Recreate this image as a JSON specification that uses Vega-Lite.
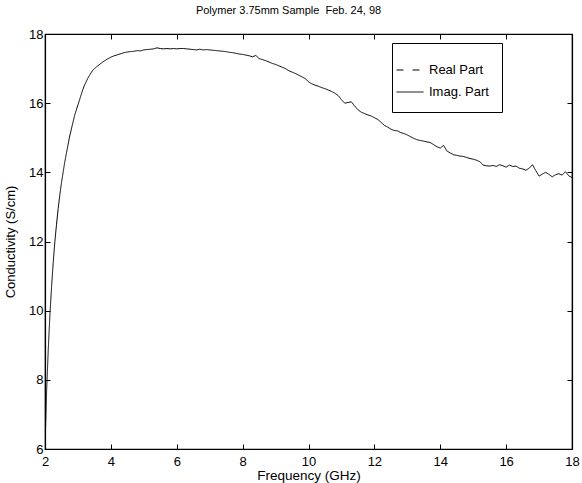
{
  "$schema": "https://vega.github.io/schema/vega-lite/v6.json",
  "width": 527,
  "height": 415,
  "autosize": "none",
  "padding": {"left": 45, "top": 34, "right": 10, "bottom": 34},
  "background": "white",
  "config": {
    "font": "Liberation Sans",
    "view": {"stroke": "black", "strokeWidth": 1.2}
  },
  "title": {
    "text": "Polymer 3.75mm Sample \u00a0Feb. 24, 98",
    "fontSize": 11,
    "fontWeight": "normal",
    "color": "black",
    "offset": 12,
    "dx": -20,
    "font": "Liberation Sans"
  },
  "data": {
    "values": [
      {"f": 2.0, "v": 6.3}, {"f": 2.02, "v": 6.7}, {"f": 2.05, "v": 7.7}, {"f": 2.1, "v": 8.9},
      {"f": 2.15, "v": 9.9}, {"f": 2.2, "v": 10.7}, {"f": 2.25, "v": 11.4}, {"f": 2.3, "v": 12.0},
      {"f": 2.35, "v": 12.5}, {"f": 2.4, "v": 12.95}, {"f": 2.45, "v": 13.35}, {"f": 2.5, "v": 13.7},
      {"f": 2.55, "v": 14.0}, {"f": 2.6, "v": 14.3}, {"f": 2.65, "v": 14.55}, {"f": 2.7, "v": 14.8},
      {"f": 2.75, "v": 15.05}, {"f": 2.8, "v": 15.25}, {"f": 2.85, "v": 15.45}, {"f": 2.9, "v": 15.65},
      {"f": 2.95, "v": 15.8}, {"f": 3.0, "v": 15.95}, {"f": 3.05, "v": 16.1}, {"f": 3.1, "v": 16.25},
      {"f": 3.15, "v": 16.4}, {"f": 3.2, "v": 16.52}, {"f": 3.25, "v": 16.62}, {"f": 3.3, "v": 16.72},
      {"f": 3.35, "v": 16.8}, {"f": 3.4, "v": 16.88}, {"f": 3.45, "v": 16.95}, {"f": 3.5, "v": 17.0},
      {"f": 3.6, "v": 17.08}, {"f": 3.7, "v": 17.15}, {"f": 3.8, "v": 17.22}, {"f": 3.9, "v": 17.28},
      {"f": 4.0, "v": 17.33}, {"f": 4.1, "v": 17.37}, {"f": 4.2, "v": 17.4}, {"f": 4.3, "v": 17.43},
      {"f": 4.4, "v": 17.46}, {"f": 4.5, "v": 17.48}, {"f": 4.6, "v": 17.49}, {"f": 4.7, "v": 17.5},
      {"f": 4.8, "v": 17.52}, {"f": 4.9, "v": 17.51}, {"f": 5.0, "v": 17.54}, {"f": 5.1, "v": 17.55},
      {"f": 5.2, "v": 17.56}, {"f": 5.3, "v": 17.57}, {"f": 5.4, "v": 17.6}, {"f": 5.5, "v": 17.58},
      {"f": 5.6, "v": 17.57}, {"f": 5.7, "v": 17.58}, {"f": 5.8, "v": 17.57}, {"f": 5.9, "v": 17.58},
      {"f": 6.0, "v": 17.57}, {"f": 6.1, "v": 17.58}, {"f": 6.2, "v": 17.58}, {"f": 6.3, "v": 17.57},
      {"f": 6.4, "v": 17.56}, {"f": 6.5, "v": 17.55}, {"f": 6.6, "v": 17.54}, {"f": 6.7, "v": 17.56},
      {"f": 6.8, "v": 17.54}, {"f": 6.9, "v": 17.55}, {"f": 7.0, "v": 17.54}, {"f": 7.1, "v": 17.53},
      {"f": 7.2, "v": 17.52}, {"f": 7.3, "v": 17.51}, {"f": 7.4, "v": 17.5}, {"f": 7.5, "v": 17.49},
      {"f": 7.6, "v": 17.47}, {"f": 7.7, "v": 17.46}, {"f": 7.8, "v": 17.44}, {"f": 7.9, "v": 17.42},
      {"f": 8.0, "v": 17.41}, {"f": 8.1, "v": 17.39}, {"f": 8.2, "v": 17.37}, {"f": 8.3, "v": 17.34},
      {"f": 8.4, "v": 17.38}, {"f": 8.5, "v": 17.29}, {"f": 8.6, "v": 17.26}, {"f": 8.7, "v": 17.23},
      {"f": 8.8, "v": 17.19}, {"f": 8.9, "v": 17.15}, {"f": 9.0, "v": 17.12}, {"f": 9.1, "v": 17.08},
      {"f": 9.2, "v": 17.04}, {"f": 9.3, "v": 17.0}, {"f": 9.4, "v": 16.94}, {"f": 9.5, "v": 16.9},
      {"f": 9.6, "v": 16.86}, {"f": 9.7, "v": 16.81}, {"f": 9.8, "v": 16.76}, {"f": 9.9, "v": 16.71},
      {"f": 10.0, "v": 16.62}, {"f": 10.1, "v": 16.56}, {"f": 10.2, "v": 16.52}, {"f": 10.3, "v": 16.49},
      {"f": 10.4, "v": 16.45}, {"f": 10.5, "v": 16.42}, {"f": 10.6, "v": 16.38}, {"f": 10.7, "v": 16.34},
      {"f": 10.8, "v": 16.29}, {"f": 10.9, "v": 16.22}, {"f": 11.0, "v": 16.1}, {"f": 11.1, "v": 16.0},
      {"f": 11.2, "v": 16.02}, {"f": 11.3, "v": 16.04}, {"f": 11.4, "v": 15.92}, {"f": 11.5, "v": 15.81},
      {"f": 11.6, "v": 15.74}, {"f": 11.7, "v": 15.7}, {"f": 11.8, "v": 15.66}, {"f": 11.9, "v": 15.63},
      {"f": 12.0, "v": 15.58}, {"f": 12.1, "v": 15.53}, {"f": 12.2, "v": 15.45}, {"f": 12.3, "v": 15.36},
      {"f": 12.4, "v": 15.31}, {"f": 12.5, "v": 15.25}, {"f": 12.6, "v": 15.21}, {"f": 12.7, "v": 15.2},
      {"f": 12.8, "v": 15.15}, {"f": 12.9, "v": 15.12}, {"f": 13.0, "v": 15.08}, {"f": 13.1, "v": 15.03},
      {"f": 13.2, "v": 14.98}, {"f": 13.3, "v": 14.94}, {"f": 13.4, "v": 14.92}, {"f": 13.5, "v": 14.9},
      {"f": 13.6, "v": 14.88}, {"f": 13.7, "v": 14.86}, {"f": 13.8, "v": 14.8}, {"f": 13.9, "v": 14.74},
      {"f": 14.0, "v": 14.7}, {"f": 14.1, "v": 14.78}, {"f": 14.2, "v": 14.62}, {"f": 14.3, "v": 14.56},
      {"f": 14.4, "v": 14.51}, {"f": 14.5, "v": 14.49}, {"f": 14.6, "v": 14.47}, {"f": 14.7, "v": 14.46},
      {"f": 14.8, "v": 14.43}, {"f": 14.9, "v": 14.4}, {"f": 15.0, "v": 14.38}, {"f": 15.1, "v": 14.35},
      {"f": 15.2, "v": 14.31}, {"f": 15.3, "v": 14.21}, {"f": 15.4, "v": 14.19}, {"f": 15.5, "v": 14.18},
      {"f": 15.6, "v": 14.2}, {"f": 15.7, "v": 14.17}, {"f": 15.8, "v": 14.22}, {"f": 15.9, "v": 14.19},
      {"f": 16.0, "v": 14.15}, {"f": 16.1, "v": 14.21}, {"f": 16.2, "v": 14.17}, {"f": 16.3, "v": 14.18},
      {"f": 16.4, "v": 14.12}, {"f": 16.5, "v": 14.1}, {"f": 16.6, "v": 14.06}, {"f": 16.7, "v": 14.12},
      {"f": 16.8, "v": 14.22}, {"f": 16.9, "v": 14.05}, {"f": 17.0, "v": 13.89}, {"f": 17.1, "v": 13.95},
      {"f": 17.2, "v": 14.0}, {"f": 17.3, "v": 13.94}, {"f": 17.4, "v": 13.87}, {"f": 17.5, "v": 13.93},
      {"f": 17.6, "v": 13.96}, {"f": 17.7, "v": 13.92}, {"f": 17.8, "v": 14.02}, {"f": 17.9, "v": 13.9},
      {"f": 18.0, "v": 13.85}
    ]
  },
  "layer": [
    {
      "mark": {"type": "line", "color": "black", "strokeWidth": 1, "clip": true},
      "encoding": {
        "x": {
          "field": "f", "type": "quantitative",
          "scale": {"domain": [2, 18], "nice": false, "zero": false},
          "axis": {
            "orient": "bottom", "values": [2, 4, 6, 8, 10, 12, 14, 16, 18],
            "tickSize": -5, "tickColor": "black", "domainColor": "black", "domainWidth": 1.2,
            "labelColor": "black", "labelFontSize": 13, "labelPadding": 11, "labelFlush": false,
            "labelOverlap": false, "grid": false,
            "title": "Frequency (GHz)", "titleFontSize": 13.5, "titleFontWeight": "normal",
            "titleColor": "black", "titlePadding": 0
          }
        },
        "y": {
          "field": "v", "type": "quantitative",
          "scale": {"domain": [6, 18], "nice": false, "zero": false},
          "axis": {
            "orient": "left", "values": [6, 8, 10, 12, 14, 16, 18],
            "tickSize": -5, "tickColor": "black", "domainColor": "black", "domainWidth": 1.2,
            "labelColor": "black", "labelFontSize": 13, "labelPadding": 7, "labelFlush": false,
            "labelOverlap": false, "grid": false,
            "title": "Conductivity (S/cm)", "titleFontSize": 13, "titleFontWeight": "normal",
            "titleColor": "black", "titlePadding": 11
          }
        },
        "strokeDash": {
          "datum": "Imag. Part", "type": "nominal",
          "scale": {"domain": ["Real Part", "Imag. Part"], "range": [[7, 9], [1, 0]]},
          "legend": {
            "title": null,
            "orient": "none", "legendX": 347, "legendY": 9,
            "strokeColor": "black", "fillColor": "white", "padding": 13,
            "symbolType": "stroke", "symbolStrokeColor": "black", "symbolSize": 729,
            "symbolStrokeWidth": 1, "symbolOffset": -9, "labelFontSize": 13, "labelColor": "black",
            "rowPadding": 1, "labelOffset": 5, "cornerRadius": 0
          }
        }
      }
    },
    {
      "mark": {"type": "line", "opacity": 0},
      "encoding": {
        "x": {
          "field": "f", "type": "quantitative",
          "scale": {"domain": [2, 18], "nice": false, "zero": false},
          "axis": {
            "orient": "top", "values": [2, 4, 6, 8, 10, 12, 14, 16, 18], "labels": false,
            "tickSize": -5, "tickColor": "black", "domainColor": "black", "domainWidth": 1.2,
            "grid": false, "title": null
          }
        },
        "y": {
          "field": "v", "type": "quantitative",
          "scale": {"domain": [6, 18], "nice": false, "zero": false},
          "axis": {
            "orient": "right", "values": [6, 8, 10, 12, 14, 16, 18], "labels": false,
            "tickSize": -5, "tickColor": "black", "domainColor": "black", "domainWidth": 1.2,
            "grid": false, "title": null
          }
        }
      }
    }
  ],
  "resolve": {"axis": {"x": "independent", "y": "independent"}}
}
